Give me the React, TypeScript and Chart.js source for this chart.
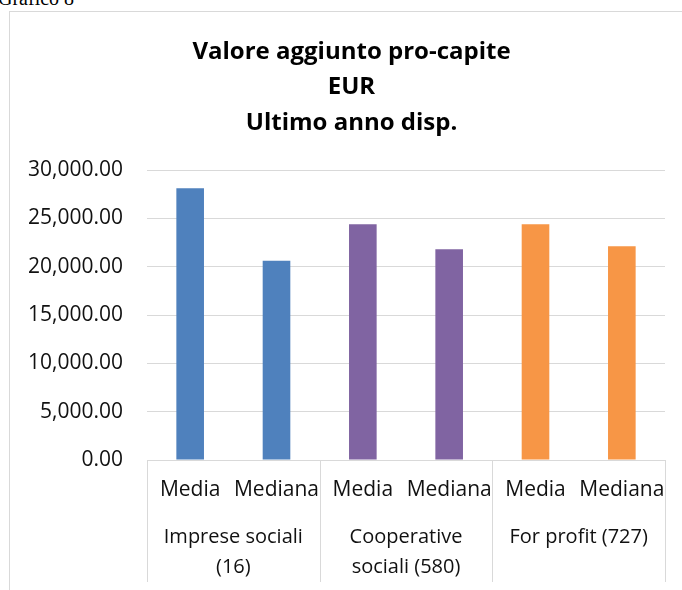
import React, { useEffect, useRef } from 'react';
import { Chart, registerables } from 'chart.js';

Chart.register(...registerables);

const categories = ['Media', 'Mediana', 'Media', 'Mediana', 'Media', 'Mediana'];
const groups = [['Imprese sociali', '(16)'], ['Cooperative', 'sociali (580)'], ['For profit (727)']];
const values = [28100, 20600, 24400, 21800, 24400, 22100];
const barColors = ['#4F81BD', '#4F81BD', '#8064A2', '#8064A2', '#F79646', '#F79646'];
const titleLines = ['Valore aggiunto pro-capite', 'EUR', 'Ultimo anno disp.'];
const yMin = 0;
const yMax = 30000;
const yStep = 5000;

const FONT = "'Open Sans', sans-serif";

const separators = {
  id: 'separators',
  afterDraw(chart: any) {
    const xs = chart.scales.x;
    const x2 = chart.scales.x2;
    const ctx = chart.ctx;
    const half = (xs.getPixelForValue(1) - xs.getPixelForValue(0)) / 2;
    const top = chart.chartArea.bottom;
    const bottom = x2.bottom;
    ctx.save();
    ctx.strokeStyle = '#d9d9d9';
    ctx.lineWidth = 1;
    for (let g = 0; g <= groups.length; g++) {
      const i = g * 2;
      const px = i < categories.length
        ? xs.getPixelForValue(i) - half
        : xs.getPixelForValue(categories.length - 1) + half;
      const x = Math.round(px) + 0.5;
      ctx.beginPath();
      ctx.moveTo(x, top);
      ctx.lineTo(x, bottom);
      ctx.stroke();
    }
    ctx.restore();
  },
};

export default function App() {
  const ref = useRef<HTMLCanvasElement | null>(null);

  useEffect(() => {
    if (!ref.current) return;
    const chart = new Chart(ref.current, {
      type: 'bar',
      data: {
        labels: categories,
        datasets: [
          {
            data: values,
            backgroundColor: barColors,
            borderWidth: 0,
            barPercentage: 0.32,
            categoryPercentage: 1,
          },
        ],
      },
      options: {
        animation: false,
        responsive: false,
        maintainAspectRatio: false,
        devicePixelRatio: 1,
        layout: { padding: { top: 0, right: 0, bottom: 8, left: 0 } },
        plugins: {
          legend: { display: false },
          tooltip: { enabled: false },
          title: {
            display: true,
            text: titleLines,
            color: '#000',
            font: { family: FONT, size: 24, weight: 'bold', lineHeight: '35.5px' },
            padding: { top: 34, bottom: 29.5 },
          },
        },
        scales: {
          y: {
            min: yMin,
            max: yMax,
            border: { display: false },
            grid: { color: '#d9d9d9', lineWidth: 1, drawTicks: false },
            ticks: {
              stepSize: yStep,
              padding: 24,
              color: '#111',
              font: { family: FONT, size: 21 },
              callback: (v: any) =>
                Number(v).toLocaleString('en-US', { minimumFractionDigits: 2, maximumFractionDigits: 2 }),
            },
            afterFit: (s: any) => { s.width = 147; },
          },
          yr: {
            type: 'linear',
            position: 'right',
            min: yMin,
            max: yMax,
            grid: { display: false, drawTicks: false },
            border: { display: false },
            ticks: { display: false },
            afterFit: (s: any) => { s.width = 38; },
          },
          x: {
            weight: 0,
            grid: { display: false, drawTicks: false },
            border: { display: false },
            ticks: { padding: 18, color: '#111', font: { family: FONT, size: 21, lineHeight: '24px' }, maxRotation: 0, autoSkip: false },
            afterFit: (s: any) => { s.height = 42; },
          },
          x2: {
            type: 'category',
            position: 'bottom',
            weight: 1,
            labels: groups as any,
            offset: true,
            grid: { display: false, drawTicks: false },
            border: { display: false },
            ticks: { padding: 20, color: '#111', font: { family: FONT, size: 20, lineHeight: '30px' }, maxRotation: 0, autoSkip: false },
            afterFit: (s: any) => { s.height = 80; },
          },
        },
      } as any,
      plugins: [separators],
    });
    return () => chart.destroy();
  }, []);

  return (
    <div style={{ position: 'fixed', left: 0, top: 0, width: 682, height: 590, overflow: 'hidden', background: '#fff' }}>
      <div
        style={{
          position: 'absolute', left: -2, top: -12, fontFamily: "'Liberation Serif', serif",
          fontSize: 20, lineHeight: '20px', color: '#000', whiteSpace: 'nowrap',
        }}
      >
        Grafico 8
      </div>
      <div
        style={{
          position: 'absolute', left: 9, top: 11, width: 900, height: 900,
          border: '1px solid #d9d9d9', boxSizing: 'border-box',
        }}
      />
      <canvas
        ref={ref}
        width={703}
        height={590}
        style={{ position: 'absolute', left: 0, top: 0, width: 703, height: 590 }}
      />
    </div>
  );
}
